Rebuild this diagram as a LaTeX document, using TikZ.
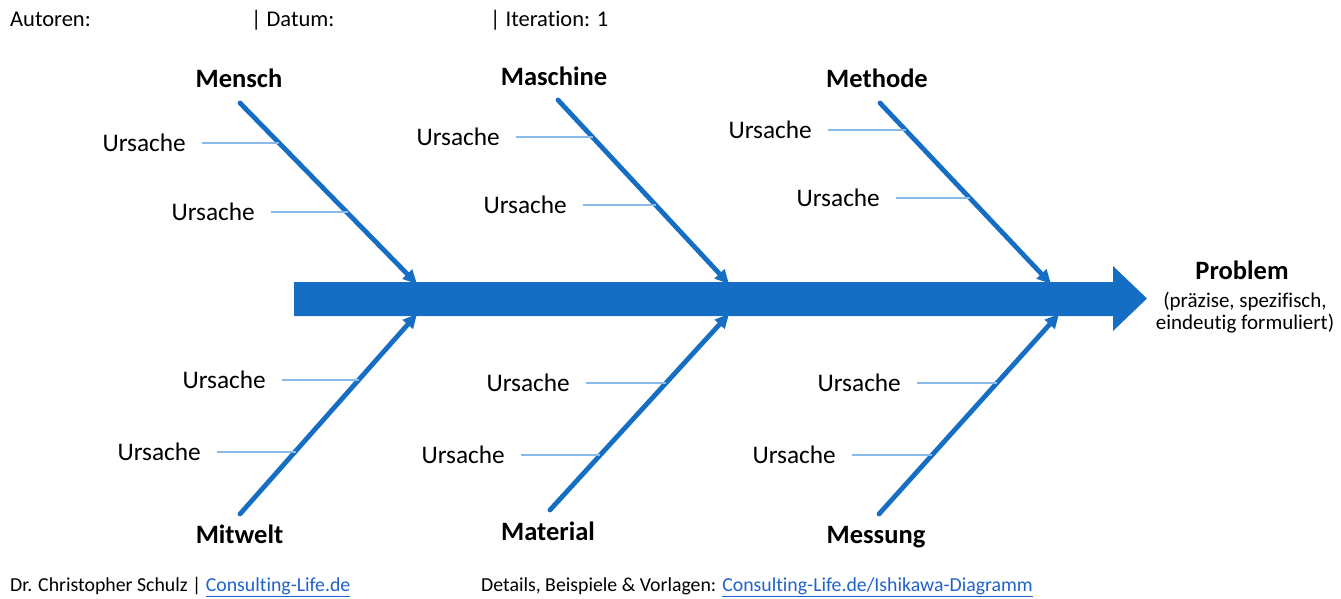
\documentclass[tikz,border=0pt]{standalone}
\usepackage{fontspec}
\setmainfont[Ligatures=NoCommon]{Carlito}
\usetikzlibrary{arrows.meta,calc}
\definecolor{bone}{RGB}{22,110,196}
\definecolor{twig}{RGB}{138,186,232}
\definecolor{weblink}{RGB}{32,98,204}

\begin{document}
\begin{tikzpicture}[x=1pt,y=-1pt,
  cause/.style={inner sep=0pt, anchor=east, font=\fontsize{25.3}{30}\selectfont},
  category/.style={inner sep=0pt, anchor=base, font=\fontsize{26.5}{30}\selectfont\bfseries},
  bonearrow/.style={draw=bone, line width=4.8pt, line cap=round,
                    -{Triangle[length=14pt,width=13pt]}},
  twigline/.style={draw=twig, line width=1.4pt},
  meta/.style={inner sep=0pt, anchor=base west, font=\fontsize{22.5}{26}\selectfont},
  foot/.style={inner sep=0pt, anchor=base west, font=\fontsize{19.8}{22}\selectfont},
  note/.style={inner sep=0pt, anchor=base, font=\fontsize{21}{24}\selectfont}
]
\useasboundingbox (0,0) rectangle (1341,598);

% header line
\node[meta] (authors) at (10,26) {Autoren:};
\node[meta] (date) at (251,26) {| Datum:};
\node[meta] (iter) at (490,26) {| Iteration: 1};

% spine with head
\coordinate (spTL) at (294,282);
\coordinate (spBL) at (294,316);
\coordinate (spTR) at (1113,282);
\coordinate (spBR) at (1113,316);
\coordinate (hdT) at (1113,266);
\coordinate (hdB) at (1113,331);
\coordinate (tip) at (1147,298.5);
\fill[bone] (spTL) -- (spTR) -- (hdT) -- (tip) -- (hdB) -- (spBR) -- (spBL) -- cycle;

% problem statement
\node[inner sep=0pt, anchor=base, font=\fontsize{26.5}{30}\selectfont\bfseries] (problem) at (1242,279) {Problem};
\node[note] (note1) at (1245,307) {(präzise, spezifisch,};
\node[note] (note2) at (1245,329) {eindeutig formuliert)};

% main bones
\coordinate (mS) at (240,103);  \coordinate (mE) at (417,284);
\coordinate (aS) at (558,100);  \coordinate (aE) at (729,284);
\coordinate (eS) at (880,103);  \coordinate (eE) at (1051,284);
\coordinate (wS) at (240,514);  \coordinate (wE) at (417,314);
\coordinate (tS) at (550,510);  \coordinate (tE) at (729,314);
\coordinate (sS) at (879,514);  \coordinate (sE) at (1059,314);

\foreach \s/\e in {mS/mE,aS/aE,eS/eE,wS/wE,tS/tE,sS/sE}
  \draw[bonearrow] (\s) -- (\e);

% category labels
\node[category] (mensch)   at (239,87)  {Mensch};
\node[category] (maschine) at (554,85)  {Maschine};
\node[category] (methode)  at (877,87)  {Methode};
\node[category] (mitwelt)  at (239.5,543) {Mitwelt};
\node[category] (material) at (548,540) {Material};
\node[category] (messung)  at (876,543) {Messung};

% points on the bones where the causes attach
\path (mS) -- (mE) coordinate[pos=0.222] (m1) coordinate[pos=0.608] (m2);
\path (aS) -- (aE) coordinate[pos=0.202] (a1) coordinate[pos=0.574] (a2);
\path (eS) -- (eE) coordinate[pos=0.150] (e1) coordinate[pos=0.528] (e2);
\path (wS) -- (wE) coordinate[pos=0.670] (w1) coordinate[pos=0.315] (w2);
\path (tS) -- (tE) coordinate[pos=0.648] (t1) coordinate[pos=0.281] (t2);
\path (sS) -- (sE) coordinate[pos=0.655] (s1) coordinate[pos=0.295] (s2);

% causes: name / right edge of text / height
\foreach \n/\x/\y in {m1/186/143, m2/255/212,
                      a1/500/137, a2/567/205,
                      e1/812/130, e2/880/198,
                      w1/266/380, w2/201/452,
                      t1/570/383, t2/505/455,
                      s1/901/383, s2/836/455}{
  \node[cause] (c\n) at (\x,\y) {Ursache};
  \draw[twigline] ([xshift=16pt]c\n.east) -- (c\n.east -| \n);
}

% footer
\node[foot] (author) at (10,591)
  {Dr. Christopher Schulz | \textcolor{weblink}{\underline{Consulting-Life.de}}};
\node[foot] (details) at (481,591)
  {Details, Beispiele \& Vorlagen: \textcolor{weblink}{\underline{Consulting-Life.de/Ishikawa-Diagramm}}};
\end{tikzpicture}
\end{document}
